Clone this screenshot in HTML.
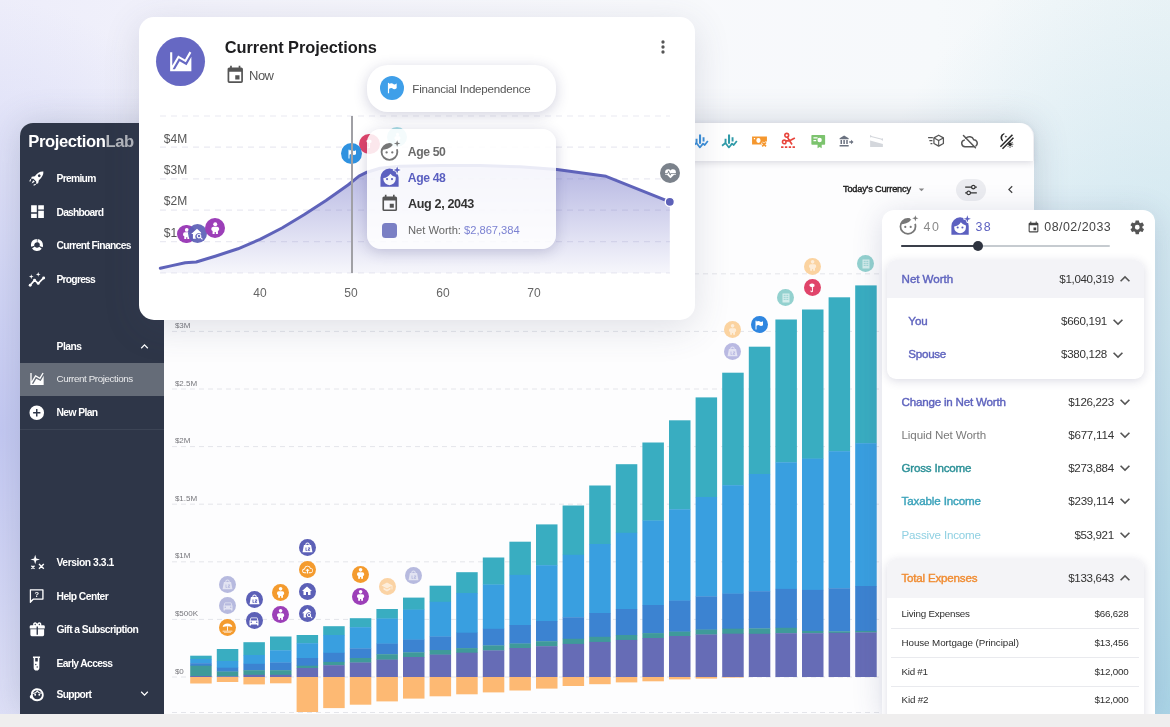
<!DOCTYPE html>
<html lang="en"><head><meta charset="utf-8"><title>ProjectionLab</title><style>
html,body{margin:0;padding:0}
body{width:1170px;height:727px;position:relative;overflow:hidden;font-family:"Liberation Sans",sans-serif;background:#f4f4fb}
.bg{position:absolute;left:0;top:0;width:1170px;height:727px;background:
 radial-gradient(ellipse 280px 430px at 0px 430px, rgba(196,201,243,1) 0%, rgba(196,201,243,0) 100%),
 radial-gradient(ellipse 420px 800px at 1170px 727px, rgba(170,213,231,1) 0%, rgba(170,213,231,0) 100%),
 linear-gradient(90deg,#ededfa 0%,#f3f3fb 22%,#f8f9fc 55%,#f6f9fb 80%,#eef5f7 100%);}
.t{position:absolute;white-space:pre;}
.ic{position:absolute;display:block;overflow:visible}
svg{overflow:visible}
</style></head><body>
<div class="bg"></div>
<div style="position:absolute;left:20px;top:122.5px;width:1013.50px;height:591.50px;background:#fdfdfe;border-radius:14px 14px 0 0;box-shadow:0 0 34px rgba(80,95,125,.24);"></div>
<div style="position:absolute;left:163.8px;top:122.5px;width:869.70px;height:38.00px;background:#fff;border-radius:0 14px 0 0;box-shadow:0 2px 6px rgba(60,60,90,.17);"></div>
<div style="position:absolute;left:20px;top:122.5px;width:143.80px;height:591.50px;background:#2e3648;border-radius:13px 0 0 0;"></div>
<div style="position:absolute;left:20px;top:363.2px;width:143.80px;height:33.00px;background:#656c78;"></div>
<div style="position:absolute;left:20px;top:429.4px;width:143.80px;height:1.00px;background:#3c4455;"></div>
<div class="t" style="left:28.30px;top:130.60px;font-size:16.6px;line-height:21.6px;font-weight:700;color:#fff;letter-spacing:-0.403px;">Projection<span style="color:#b4b7bd">Lab</span></div>
<svg class="ic" style="left:28.20px;top:167.90px;width:19px;height:19px;color:#fff;" viewBox="0 0 24 24" fill="currentColor"><g transform="rotate(45 12 12)"><path d="M12,1.5C15.2,4.2 16.2,8.3 15.6,13.2L17.8,16.6L16.6,18.8L14.4,16.8H9.6L7.4,18.8L6.2,16.6L8.4,13.2C7.8,8.3 8.8,4.2 12,1.5ZM12,7.2A1.7,1.7 0 0,0 12,10.6A1.7,1.7 0 0,0 12,7.2Z" fill-rule="evenodd"/><path d="M10.6,18.2H13.4L12,22.6Z"/><path d="M7.6,19.6L8.6,22.4M16.4,19.6L15.4,22.4" stroke="currentColor" stroke-width="1.3" fill="none"/></g></svg>
<div class="t" style="left:56.50px;top:172.30px;font-size:10.3px;line-height:13.4px;font-weight:700;color:#fff;letter-spacing:-0.713px;">Premium</div>
<svg class="ic" style="left:28.60px;top:202.60px;width:17px;height:17px;color:#fff;" viewBox="0 0 24 24" fill="currentColor"><path d="M13,3V9H21V3M13,21H21V11H13M3,21H11V15H3M3,13H11V3H3V13Z" /></svg>
<div class="t" style="left:56.50px;top:205.70px;font-size:10.3px;line-height:13.4px;font-weight:700;color:#fff;letter-spacing:-0.775px;">Dashboard</div>
<svg class="ic" style="left:29.90px;top:238.40px;width:14px;height:14px;color:#fff;" viewBox="0 0 24 24" fill="currentColor"><circle cx="12" cy="12" r="7.6" fill="none" stroke="currentColor" stroke-width="5.6" stroke-dasharray="13.7 2.2" transform="rotate(-84 12 12)"/></svg>
<div class="t" style="left:56.50px;top:239.30px;font-size:10.3px;line-height:13.4px;font-weight:700;color:#fff;letter-spacing:-0.646px;">Current Finances</div>
<svg class="ic" style="left:28.35px;top:270.85px;width:17.5px;height:17.5px;color:#fff;" viewBox="0 0 24 24" fill="currentColor"><path d="M3,19.5L9,12.5L14,17L21.5,9.5" fill="none" stroke="currentColor" stroke-width="2.3" stroke-linejoin="round" stroke-linecap="round"/><circle cx="3" cy="19.5" r="2"/><circle cx="9" cy="12.5" r="2"/><circle cx="14" cy="17" r="2"/><circle cx="21.5" cy="9.5" r="2"/><path d="M4.5,4.5L5.3,6.9L7.7,7.7L5.3,8.5L4.5,10.9L3.7,8.5L1.3,7.7L3.7,6.9ZM14,1.5L14.8,3.9L17.2,4.7L14.8,5.5L14,7.9L13.2,5.5L10.8,4.7L13.2,3.9Z"/></svg>
<div class="t" style="left:56.50px;top:272.70px;font-size:10.3px;line-height:13.4px;font-weight:700;color:#fff;letter-spacing:-0.765px;">Progress</div>
<div class="t" style="left:56.50px;top:339.70px;font-size:10.3px;line-height:13.4px;font-weight:700;color:#fff;letter-spacing:-0.471px;">Plans</div>
<svg class="ic" style="left:28.80px;top:371.40px;width:16px;height:16px;color:#fff;" viewBox="0 0 24 24" fill="currentColor"><path d="M17.45,15.18L22,7.31V19L22,21H2V3H4V15.54L9.5,6L16,9.78L20.24,2.45L21.97,3.45L16.74,12.5L10.23,8.75L4.31,19H6.57L10.96,11.44L17.45,15.18Z" /></svg>
<div class="t" style="left:56.50px;top:373.45px;font-size:9.8px;line-height:12.7px;font-weight:400;color:#e9eaec;letter-spacing:-0.398px;">Current Projections</div>
<svg class="ic" style="left:28.05px;top:403.95px;width:17.5px;height:17.5px;color:#fff;" viewBox="0 0 24 24" fill="currentColor"><path d="M17,13H13V17H11V13H7V11H11V7H13V11H17M12,2A10,10 0 0,0 2,12A10,10 0 0,0 12,22A10,10 0 0,0 22,12A10,10 0 0,0 12,2Z" /></svg>
<div class="t" style="left:56.50px;top:406.40px;font-size:10.3px;line-height:13.4px;font-weight:700;color:#fff;letter-spacing:-0.597px;">New Plan</div>
<svg class="ic" style="left:28.55px;top:554.15px;width:16.5px;height:16.5px;color:#fff;" viewBox="0 0 24 24" fill="currentColor"><path d="M9,1L10.6,6.4L16,8L10.6,9.6L9,15L7.4,9.6L2,8L7.4,6.4Z"/><path d="M14.5,14.5L21.5,21.5M21.5,14.5L14.5,21.5M3.5,17L8,21.5M8,17L3.5,21.5" stroke="currentColor" stroke-width="2" fill="none"/></svg>
<div class="t" style="left:56.50px;top:556.10px;font-size:10.3px;line-height:13.4px;font-weight:700;color:#fff;letter-spacing:-0.431px;">Version 3.3.1</div>
<svg class="ic" style="left:28.30px;top:587.30px;width:17px;height:17px;color:#fff;" viewBox="0 0 24 24" fill="currentColor"><path d="M3,3H21A1,1 0 0,1 22,4V17A1,1 0 0,1 21,18H8L3.5,22.5A0.6,0.6 0 0,1 2.5,22V4A1,1 0 0,1 3,3ZM4.3,4.9V18.6L7.2,16.1H20.1V4.9Z" fill-rule="evenodd"/><text x="12.3" y="14.4" font-size="10.5" font-weight="700" text-anchor="middle" font-family="Liberation Sans, sans-serif" fill="currentColor">?</text></svg>
<div class="t" style="left:56.50px;top:589.50px;font-size:10.3px;line-height:13.4px;font-weight:700;color:#fff;letter-spacing:-0.560px;">Help Center</div>
<svg class="ic" style="left:28.55px;top:621.25px;width:16.5px;height:16.5px;color:#fff;" viewBox="0 0 24 24" fill="currentColor"><path d="M9.06,1.93C7.17,1.92 5.33,3.74 6.17,6H3A2,2 0 0,0 1,8V10A1,1 0 0,0 2,11H11V8H13V11H22A1,1 0 0,0 23,10V8A2,2 0 0,0 21,6H17.83C19,2.73 14.6,0.42 12.57,3.24L12,4L11.43,3.22C10.8,2.33 9.93,1.94 9.06,1.93M9,4C9.89,4 10.34,5.08 9.71,5.71C9.08,6.34 8,5.89 8,5A1,1 0 0,1 9,4M15,4C15.89,4 16.34,5.08 15.71,5.71C15.08,6.34 14,5.89 14,5A1,1 0 0,1 15,4M2,12V20A2,2 0 0,0 4,22H20A2,2 0 0,0 22,20V12H13V20H11V12H2Z" /></svg>
<div class="t" style="left:56.50px;top:623.20px;font-size:10.3px;line-height:13.4px;font-weight:700;color:#fff;letter-spacing:-0.545px;">Gift a Subscription</div>
<svg class="ic" style="left:28.30px;top:654.50px;width:17px;height:17px;color:#fff;" viewBox="0 0 24 24" fill="currentColor"><path d="M7,2H17V4.4H16V18A4,4 0 0,1 8,18V4.4H7ZM10.2,4.4V9H13.8V4.4ZM11,12.5A1,1 0 0,0 11,14.5A1,1 0 0,0 11,12.5ZM13,16A1,1 0 0,0 13,18A1,1 0 0,0 13,16Z" fill-rule="evenodd"/></svg>
<div class="t" style="left:56.50px;top:656.70px;font-size:10.3px;line-height:13.4px;font-weight:700;color:#fff;letter-spacing:-0.650px;">Early Access</div>
<svg class="ic" style="left:28.55px;top:685.55px;width:16.5px;height:16.5px;color:#fff;" viewBox="0 0 24 24" fill="currentColor"><path d="M12,3.2C6.6,3.2 3,7 3,11.6V13.2A2.2,2.2 0 0,0 1.2,15.4V16A2.2,2.2 0 0,0 3.6,18.2C5,20.6 8,22 12,22C17.4,22 21.4,18.6 21.4,13C21.4,7.4 17.4,3.2 12,3.2ZM12,6C15.8,6 18.8,8.8 18.8,12.8C18.8,16.8 16,19.4 12,19.4C8,19.4 5.4,16.8 5.4,12.8C5.4,8.8 8.2,6 12,6ZM9,11.4A1.4,1.4 0 0,0 9,14.2A1.4,1.4 0 0,0 9,11.4ZM15,11.4A1.4,1.4 0 0,0 15,14.2A1.4,1.4 0 0,0 15,11.4Z" fill-rule="evenodd"/><path d="M6,11C9,10.8 11,9.4 12,7.4C13.4,9.6 15.8,10.8 18.6,10.6" fill="none" stroke="currentColor" stroke-width="1.6"/></svg>
<div class="t" style="left:56.50px;top:687.50px;font-size:10.3px;line-height:13.4px;font-weight:700;color:#fff;letter-spacing:-0.661px;">Support</div>
<svg class="ic" style="left:137.00px;top:338.50px;width:15px;height:15px;color:#fff;" viewBox="0 0 24 24" fill="currentColor"><path d="M7.41,15.41L12,10.83L16.59,15.41L18,14L12,8L6,14L7.41,15.41Z" /></svg>
<svg class="ic" style="left:136.80px;top:686.30px;width:15px;height:15px;color:#fff;" viewBox="0 0 24 24" fill="currentColor"><path d="M7.41,8.58L12,13.17L16.59,8.58L18,10L12,16L6,10L7.41,8.58Z" /></svg>
<svg class="ic" style="left:692.25px;top:132.55px;width:16.5px;height:16.5px;color:#3b8fd9;" viewBox="0 0 24 24" fill="currentColor"><path d="M5.2,8.5H8V14.2H5.2ZM10.2,2H13.2V15.6H10.2ZM15.4,6H18.2V12.4H15.4Z"/><path d="M1.5,18.5L6.5,14.5L11.5,21L16,15.5L18.5,17.5L23,11.5" fill="none" stroke="currentColor" stroke-width="2.5" stroke-linejoin="round"/></svg>
<svg class="ic" style="left:721.45px;top:132.55px;width:16.5px;height:16.5px;color:#2f9aa8;" viewBox="0 0 24 24" fill="currentColor"><path d="M5.2,8.5H8V14.2H5.2ZM10.2,2H13.2V15.6H10.2ZM15.4,6H18.2V12.4H15.4Z"/><path d="M1.5,18.5L6.5,14.5L11.5,21L16,15.5L18.5,17.5L23,11.5" fill="none" stroke="currentColor" stroke-width="2.5" stroke-linejoin="round"/></svg>
<svg class="ic" style="left:750.50px;top:132.30px;width:17px;height:17px;color:#f5972e;" viewBox="0 0 24 24" fill="currentColor"><path d="M1.5,6.5H22.5V13.4H20.2L18.5,15.1L16.8,13.4L14.2,16L15.7,17.5H1.5ZM10.5,8.6A3,3.4 0 0,0 10.5,15.4A3,3.4 0 0,0 10.5,8.6ZM4,8.6V10.4H5.8V8.6Z" fill-rule="evenodd"/><path d="M15.8,14.8L21.2,20.2M21.2,14.8L15.8,20.2" stroke="currentColor" stroke-width="2.3" fill="none"/></svg>
<svg class="ic" style="left:779.50px;top:132.30px;width:17px;height:17px;color:#e8453c;" viewBox="0 0 24 24" fill="currentColor"><circle cx="9.5" cy="4.6" r="2.7" fill="none" stroke="currentColor" stroke-width="2.2"/><circle cx="6" cy="14" r="2.5" fill="none" stroke="currentColor" stroke-width="2.2"/><path d="M10.5,7.2L13.5,12.5L21,8.5M8,12.6L13.5,12.5L17,17.5" fill="none" stroke="currentColor" stroke-width="2.4" stroke-linejoin="round"/><path d="M1.5,21.3H22.5" stroke="currentColor" stroke-width="2.6" stroke-dasharray="3.4 2" fill="none"/></svg>
<svg class="ic" style="left:809.75px;top:132.55px;width:16.5px;height:16.5px;color:#7cc36e;" viewBox="0 0 24 24" fill="currentColor"><path d="M3,3H21A1,1 0 0,1 22,4V16A1,1 0 0,1 21,17H17V22L14,20.2L11,22V17H3A1,1 0 0,1 2,16V4A1,1 0 0,1 3,3ZM5,6V8H11V6ZM5,10V12H9V10ZM14,7A3.2,3.2 0 0,0 14,13.4A3.2,3.2 0 0,0 14,7Z" fill-rule="evenodd"/></svg>
<svg class="ic" style="left:839.25px;top:133.55px;width:14.5px;height:14.5px;color:#6b7280;" viewBox="0 0 24 24" fill="currentColor"><path d="M1,7L8.5,2.5L16,7V8.6H1ZM2.5,10H5V16.5H2.5ZM7.2,10H9.7V16.5H7.2ZM12,10H14.5V16.5H12ZM1,18H16V20.5H1ZM17,12H20V9.6L24,13.2L20,16.8V14.4H17Z"/></svg>
<svg class="ic" style="left:867.50px;top:132.30px;width:17px;height:17px;color:#d4d7dc;" viewBox="0 0 24 24" fill="currentColor"><path d="M3,21V12L21,17V21Z"/><path d="M3,6L21,10.5" fill="none" stroke="currentColor" stroke-width="1.6"/><path d="M3,3.8L5.6,6L3,8.2ZM21,8.3L18.4,10.5L21,12.7Z"/></svg>
<svg class="ic" style="left:926.75px;top:132.85px;width:17.5px;height:17.5px;color:#555;" viewBox="0 0 24 24" fill="currentColor"><path d="M16,3L22.5,6.7V14.3L16,18L9.5,14.3V6.7Z" fill="none" stroke="currentColor" stroke-width="1.7" stroke-linejoin="round"/><path d="M9.8,6.9L16,10.4L22.2,6.9M16,10.4V17.6" fill="none" stroke="currentColor" stroke-width="1.5"/><path d="M1.5,5.6H8V7.3H1.5ZM3.2,9.6H7.4V11.3H3.2ZM4.8,13.6H7.4V15.3H4.8Z"/></svg>
<svg class="ic" style="left:959.75px;top:131.55px;width:18.5px;height:18.5px;color:#555;" viewBox="0 0 24 24" fill="currentColor"><path d="M7.6,8.2A6,6 0 0,1 17.8,10A4.6,4.6 0 0,1 20.6,18.2M17.5,19H6.5A4.3,4.3 0 0,1 5.6,10.5" fill="none" stroke="currentColor" stroke-width="1.9" stroke-linecap="round"/><path d="M4.5,4.5L20,20.5" stroke="currentColor" stroke-width="1.9" fill="none" stroke-linecap="round"/></svg>
<svg class="ic" style="left:997.75px;top:132.55px;width:16.5px;height:16.5px;color:#2a2a2a;" viewBox="0 0 24 24" fill="currentColor"><path d="M21,2.5L3.5,20" stroke="currentColor" stroke-width="2.3" fill="none"/><path d="M22.5,7L6.5,23" stroke="currentColor" stroke-width="2.3" fill="none"/><path d="M8.8,1.2A5.6,5.6 0 0,0 6.6,11.2A6.6,6.6 0 0,1 8.8,1.2Z" stroke="currentColor" stroke-width="1.6" stroke-linejoin="round"/><path d="M11.5,3.2L12.1,4.7L13.6,5.3L12.1,5.9L11.5,7.4L10.9,5.9L9.4,5.3L10.9,4.7Z"/><circle cx="17.5" cy="16.5" r="2.6"/><path d="M17.5,11.8V13.2M17.5,19.8V21.4M22.2,16.5H20.8M21,13.2L20,14.2M21,19.8L20,18.8M14.2,19.8L15,19" stroke="currentColor" stroke-width="1.5" fill="none"/></svg>
<div class="t" style="left:843.00px;top:183.00px;font-size:9.2px;line-height:12.0px;font-weight:400;color:#222;letter-spacing:-0.179px;-webkit-text-stroke:0.4px;">Today's Currency</div>
<svg class="ic" style="left:914.50px;top:182.80px;width:13px;height:13px;color:#888;" viewBox="0 0 24 24" fill="currentColor"><path d="M7,10L12,15L17,10H7Z" /></svg>
<div style="position:absolute;left:955.5px;top:178.5px;width:30.00px;height:22.00px;background:#ebecf0;border-radius:11px;"></div>
<svg class="ic" style="left:963.50px;top:182.60px;width:14px;height:14px;color:#333;" viewBox="0 0 24 24" fill="currentColor"><path d="M8 13C6.14 13 4.59 14.28 4.14 16H2V18H4.14C4.59 19.72 6.14 21 8 21S11.41 19.72 11.86 18H22V16H11.86C11.41 14.28 9.86 13 8 13M8 19C6.9 19 6 18.1 6 17C6 15.9 6.9 15 8 15S10 15.9 10 17C10 18.1 9.1 19 8 19M19.86 6C19.41 4.28 17.86 3 16 3S12.59 4.28 12.14 6H2V8H12.14C12.59 9.72 14.14 11 16 11S19.41 9.72 19.86 8H22V6H19.86M16 9C14.9 9 14 8.1 14 7C14 5.9 14.9 5 16 5S18 5.9 18 7C18 8.1 17.1 9 16 9Z" /></svg>
<svg class="ic" style="left:1003.10px;top:181.70px;width:15px;height:15px;color:#444;" viewBox="0 0 24 24" fill="currentColor"><path d="M15.41,16.58L10.83,12L15.41,7.41L14,6L8,12L14,18L15.41,16.58Z" /></svg>
<svg style="position:absolute;left:0;top:0;width:1170px;height:727px" viewBox="0 0 1170 727"><g stroke="#e4e5ea" stroke-width="1" stroke-dasharray="5 4" fill="none"><line x1="172" x2="880" y1="677.0" y2="677.0"/><line x1="172" x2="880" y1="619.4" y2="619.4"/><line x1="172" x2="880" y1="561.8" y2="561.8"/><line x1="172" x2="880" y1="504.2" y2="504.2"/><line x1="172" x2="880" y1="446.6" y2="446.6"/><line x1="172" x2="880" y1="389.0" y2="389.0"/><line x1="172" x2="880" y1="331.4" y2="331.4"/><line x1="172" x2="880" y1="273.8" y2="273.8"/><line x1="172" x2="880" y1="712.5" y2="712.5"/></g><rect x="190.2" y="655.7" width="21.5" height="3.6" fill="#39adc1"/><rect x="190.2" y="659.0" width="21.5" height="4.5" fill="#399fe0"/><rect x="190.2" y="663.2" width="21.5" height="2.8" fill="#3c83d1"/><rect x="190.2" y="665.7" width="21.5" height="10.6" fill="#3f9a9a"/><rect x="190.2" y="676.0" width="21.5" height="1.0" fill="#666cb6"/><rect x="190.2" y="677.0" width="21.5" height="6.5" fill="#fdb973"/><rect x="216.8" y="649.0" width="21.5" height="12.3" fill="#39adc1"/><rect x="216.8" y="661.0" width="21.5" height="7.0" fill="#399fe0"/><rect x="216.8" y="667.7" width="21.5" height="4.1" fill="#3c83d1"/><rect x="216.8" y="671.5" width="21.5" height="5.1" fill="#3f9a9a"/><rect x="216.8" y="676.3" width="21.5" height="0.7" fill="#666cb6"/><rect x="216.8" y="677.0" width="21.5" height="5.0" fill="#fdb973"/><rect x="243.4" y="642.2" width="21.5" height="13.1" fill="#39adc1"/><rect x="243.4" y="655.0" width="21.5" height="9.1" fill="#399fe0"/><rect x="243.4" y="663.8" width="21.5" height="6.7" fill="#3c83d1"/><rect x="243.4" y="670.2" width="21.5" height="4.9" fill="#3f9a9a"/><rect x="243.4" y="674.8" width="21.5" height="2.2" fill="#666cb6"/><rect x="243.4" y="677.0" width="21.5" height="7.4" fill="#fdb973"/><rect x="270.0" y="636.5" width="21.5" height="14.1" fill="#39adc1"/><rect x="270.0" y="650.3" width="21.5" height="12.5" fill="#399fe0"/><rect x="270.0" y="662.5" width="21.5" height="8.0" fill="#3c83d1"/><rect x="270.0" y="670.2" width="21.5" height="4.9" fill="#3f9a9a"/><rect x="270.0" y="674.8" width="21.5" height="2.2" fill="#666cb6"/><rect x="270.0" y="677.0" width="21.5" height="6.3" fill="#fdb973"/><rect x="296.6" y="635.0" width="21.5" height="8.5" fill="#39adc1"/><rect x="296.6" y="643.2" width="21.5" height="15.1" fill="#399fe0"/><rect x="296.6" y="658.0" width="21.5" height="8.0" fill="#3c83d1"/><rect x="296.6" y="665.7" width="21.5" height="2.6" fill="#3f9a9a"/><rect x="296.6" y="668.0" width="21.5" height="9.0" fill="#666cb6"/><rect x="296.6" y="677.0" width="21.5" height="35.0" fill="#fdb973"/><rect x="323.2" y="626.2" width="21.5" height="9.1" fill="#39adc1"/><rect x="323.2" y="635.0" width="21.5" height="18.1" fill="#399fe0"/><rect x="323.2" y="652.8" width="21.5" height="9.4" fill="#3c83d1"/><rect x="323.2" y="661.9" width="21.5" height="3.6" fill="#3f9a9a"/><rect x="323.2" y="665.2" width="21.5" height="11.8" fill="#666cb6"/><rect x="323.2" y="677.0" width="21.5" height="31.1" fill="#fdb973"/><rect x="349.8" y="618.2" width="21.5" height="9.3" fill="#39adc1"/><rect x="349.8" y="627.2" width="21.5" height="21.5" fill="#399fe0"/><rect x="349.8" y="648.4" width="21.5" height="9.9" fill="#3c83d1"/><rect x="349.8" y="658.0" width="21.5" height="4.8" fill="#3f9a9a"/><rect x="349.8" y="662.5" width="21.5" height="14.5" fill="#666cb6"/><rect x="349.8" y="677.0" width="21.5" height="27.7" fill="#fdb973"/><rect x="376.4" y="609.0" width="21.5" height="9.8" fill="#39adc1"/><rect x="376.4" y="618.5" width="21.5" height="25.4" fill="#399fe0"/><rect x="376.4" y="643.6" width="21.5" height="10.9" fill="#3c83d1"/><rect x="376.4" y="654.2" width="21.5" height="5.7" fill="#3f9a9a"/><rect x="376.4" y="659.6" width="21.5" height="17.4" fill="#666cb6"/><rect x="376.4" y="677.0" width="21.5" height="24.4" fill="#fdb973"/><rect x="403.0" y="597.6" width="21.5" height="12.3" fill="#39adc1"/><rect x="403.0" y="609.6" width="21.5" height="30.3" fill="#399fe0"/><rect x="403.0" y="639.6" width="21.5" height="13.0" fill="#3c83d1"/><rect x="403.0" y="652.3" width="21.5" height="5.0" fill="#3f9a9a"/><rect x="403.0" y="657.0" width="21.5" height="20.0" fill="#666cb6"/><rect x="403.0" y="677.0" width="21.5" height="21.6" fill="#fdb973"/><rect x="429.6" y="585.7" width="21.5" height="16.4" fill="#39adc1"/><rect x="429.6" y="601.8" width="21.5" height="35.0" fill="#399fe0"/><rect x="429.6" y="636.5" width="21.5" height="13.8" fill="#3c83d1"/><rect x="429.6" y="650.0" width="21.5" height="4.9" fill="#3f9a9a"/><rect x="429.6" y="654.6" width="21.5" height="22.4" fill="#666cb6"/><rect x="429.6" y="677.0" width="21.5" height="19.3" fill="#fdb973"/><rect x="456.2" y="572.2" width="21.5" height="21.1" fill="#39adc1"/><rect x="456.2" y="593.0" width="21.5" height="40.0" fill="#399fe0"/><rect x="456.2" y="632.7" width="21.5" height="15.7" fill="#3c83d1"/><rect x="456.2" y="648.1" width="21.5" height="4.9" fill="#3f9a9a"/><rect x="456.2" y="652.7" width="21.5" height="24.3" fill="#666cb6"/><rect x="456.2" y="677.0" width="21.5" height="17.3" fill="#fdb973"/><rect x="482.8" y="557.5" width="21.5" height="27.3" fill="#39adc1"/><rect x="482.8" y="584.5" width="21.5" height="44.6" fill="#399fe0"/><rect x="482.8" y="628.8" width="21.5" height="16.9" fill="#3c83d1"/><rect x="482.8" y="645.4" width="21.5" height="5.3" fill="#3f9a9a"/><rect x="482.8" y="650.4" width="21.5" height="26.6" fill="#666cb6"/><rect x="482.8" y="677.0" width="21.5" height="15.4" fill="#fdb973"/><rect x="509.4" y="541.7" width="21.5" height="33.5" fill="#39adc1"/><rect x="509.4" y="574.9" width="21.5" height="50.4" fill="#399fe0"/><rect x="509.4" y="625.0" width="21.5" height="18.8" fill="#3c83d1"/><rect x="509.4" y="643.5" width="21.5" height="4.8" fill="#3f9a9a"/><rect x="509.4" y="648.0" width="21.5" height="29.0" fill="#666cb6"/><rect x="509.4" y="677.0" width="21.5" height="13.5" fill="#fdb973"/><rect x="536.0" y="524.4" width="21.5" height="41.1" fill="#39adc1"/><rect x="536.0" y="565.2" width="21.5" height="56.1" fill="#399fe0"/><rect x="536.0" y="621.0" width="21.5" height="20.5" fill="#3c83d1"/><rect x="536.0" y="641.2" width="21.5" height="5.3" fill="#3f9a9a"/><rect x="536.0" y="646.2" width="21.5" height="30.8" fill="#666cb6"/><rect x="536.0" y="677.0" width="21.5" height="11.6" fill="#fdb973"/><rect x="562.6" y="505.5" width="21.5" height="49.6" fill="#39adc1"/><rect x="562.6" y="554.8" width="21.5" height="62.8" fill="#399fe0"/><rect x="562.6" y="617.3" width="21.5" height="21.8" fill="#3c83d1"/><rect x="562.6" y="638.8" width="21.5" height="5.4" fill="#3f9a9a"/><rect x="562.6" y="643.9" width="21.5" height="33.1" fill="#666cb6"/><rect x="562.6" y="677.0" width="21.5" height="9.0" fill="#fdb973"/><rect x="589.2" y="485.5" width="21.5" height="58.8" fill="#39adc1"/><rect x="589.2" y="544.0" width="21.5" height="69.3" fill="#399fe0"/><rect x="589.2" y="613.0" width="21.5" height="24.1" fill="#3c83d1"/><rect x="589.2" y="636.8" width="21.5" height="5.4" fill="#3f9a9a"/><rect x="589.2" y="641.9" width="21.5" height="35.1" fill="#666cb6"/><rect x="589.2" y="677.0" width="21.5" height="7.2" fill="#fdb973"/><rect x="615.8" y="464.2" width="21.5" height="68.9" fill="#39adc1"/><rect x="615.8" y="532.8" width="21.5" height="76.5" fill="#399fe0"/><rect x="615.8" y="609.0" width="21.5" height="26.3" fill="#3c83d1"/><rect x="615.8" y="635.0" width="21.5" height="5.2" fill="#3f9a9a"/><rect x="615.8" y="639.9" width="21.5" height="37.1" fill="#666cb6"/><rect x="615.8" y="677.0" width="21.5" height="5.4" fill="#fdb973"/><rect x="642.4" y="442.5" width="21.5" height="78.3" fill="#39adc1"/><rect x="642.4" y="520.5" width="21.5" height="84.8" fill="#399fe0"/><rect x="642.4" y="605.0" width="21.5" height="28.4" fill="#3c83d1"/><rect x="642.4" y="633.1" width="21.5" height="5.2" fill="#3f9a9a"/><rect x="642.4" y="638.0" width="21.5" height="39.0" fill="#666cb6"/><rect x="642.4" y="677.0" width="21.5" height="4.3" fill="#fdb973"/><rect x="669.0" y="420.3" width="21.5" height="89.3" fill="#39adc1"/><rect x="669.0" y="509.3" width="21.5" height="91.6" fill="#399fe0"/><rect x="669.0" y="600.6" width="21.5" height="31.3" fill="#3c83d1"/><rect x="669.0" y="631.6" width="21.5" height="4.7" fill="#3f9a9a"/><rect x="669.0" y="636.0" width="21.5" height="41.0" fill="#666cb6"/><rect x="669.0" y="677.0" width="21.5" height="2.4" fill="#fdb973"/><rect x="695.6" y="397.4" width="21.5" height="99.9" fill="#39adc1"/><rect x="695.6" y="497.0" width="21.5" height="99.7" fill="#399fe0"/><rect x="695.6" y="596.4" width="21.5" height="33.5" fill="#3c83d1"/><rect x="695.6" y="629.6" width="21.5" height="5.2" fill="#3f9a9a"/><rect x="695.6" y="634.5" width="21.5" height="42.5" fill="#666cb6"/><rect x="695.6" y="677.0" width="21.5" height="1.6" fill="#fdb973"/><rect x="722.2" y="372.7" width="21.5" height="112.8" fill="#39adc1"/><rect x="722.2" y="485.2" width="21.5" height="108.7" fill="#399fe0"/><rect x="722.2" y="593.6" width="21.5" height="35.4" fill="#3c83d1"/><rect x="722.2" y="628.7" width="21.5" height="5.3" fill="#3f9a9a"/><rect x="722.2" y="633.7" width="21.5" height="43.3" fill="#666cb6"/><rect x="722.2" y="677.0" width="21.5" height="0.6" fill="#fdb973"/><rect x="748.8" y="346.7" width="21.5" height="127.6" fill="#39adc1"/><rect x="748.8" y="474.0" width="21.5" height="117.5" fill="#399fe0"/><rect x="748.8" y="591.2" width="21.5" height="37.5" fill="#3c83d1"/><rect x="748.8" y="628.4" width="21.5" height="5.7" fill="#3f9a9a"/><rect x="748.8" y="633.8" width="21.5" height="43.2" fill="#666cb6"/><rect x="775.4" y="319.5" width="21.5" height="143.1" fill="#39adc1"/><rect x="775.4" y="462.3" width="21.5" height="126.9" fill="#399fe0"/><rect x="775.4" y="588.9" width="21.5" height="39.2" fill="#3c83d1"/><rect x="775.4" y="627.8" width="21.5" height="5.7" fill="#3f9a9a"/><rect x="775.4" y="633.2" width="21.5" height="43.8" fill="#666cb6"/><rect x="802.0" y="309.5" width="21.5" height="149.4" fill="#39adc1"/><rect x="802.0" y="458.6" width="21.5" height="131.6" fill="#399fe0"/><rect x="802.0" y="589.9" width="21.5" height="41.3" fill="#3c83d1"/><rect x="802.0" y="630.9" width="21.5" height="2.6" fill="#3f9a9a"/><rect x="802.0" y="633.2" width="21.5" height="43.8" fill="#666cb6"/><rect x="828.6" y="297.3" width="21.5" height="154.2" fill="#39adc1"/><rect x="828.6" y="451.2" width="21.5" height="137.4" fill="#399fe0"/><rect x="828.6" y="588.3" width="21.5" height="43.3" fill="#3c83d1"/><rect x="828.6" y="631.3" width="21.5" height="1.8" fill="#3f9a9a"/><rect x="828.6" y="632.8" width="21.5" height="44.2" fill="#666cb6"/><rect x="855.2" y="285.4" width="21.5" height="158.1" fill="#39adc1"/><rect x="855.2" y="443.2" width="21.5" height="143.1" fill="#399fe0"/><rect x="855.2" y="586.0" width="21.5" height="45.2" fill="#3c83d1"/><rect x="855.2" y="630.9" width="21.5" height="1.8" fill="#3f9a9a"/><rect x="855.2" y="632.4" width="21.5" height="44.6" fill="#666cb6"/></svg>
<div class="t" style="left:174.90px;top:666.60px;font-size:8px;line-height:10.4px;font-weight:400;color:#77777c;">$0</div>
<div class="t" style="left:174.90px;top:609.00px;font-size:8px;line-height:10.4px;font-weight:400;color:#77777c;">$500K</div>
<div class="t" style="left:174.90px;top:551.40px;font-size:8px;line-height:10.4px;font-weight:400;color:#77777c;">$1M</div>
<div class="t" style="left:174.90px;top:493.80px;font-size:8px;line-height:10.4px;font-weight:400;color:#77777c;">$1.5M</div>
<div class="t" style="left:174.90px;top:436.20px;font-size:8px;line-height:10.4px;font-weight:400;color:#77777c;">$2M</div>
<div class="t" style="left:174.90px;top:378.60px;font-size:8px;line-height:10.4px;font-weight:400;color:#77777c;">$2.5M</div>
<div class="t" style="left:174.90px;top:321.00px;font-size:8px;line-height:10.4px;font-weight:400;color:#77777c;">$3M</div>
<div style="position:absolute;left:219.10px;top:575.50px;width:17.00px;height:17.00px;border-radius:50%;background:#b7badf;"><svg viewBox="0 0 24 24" fill="currentColor" style="position:absolute;left:2.00px;top:2.00px;width:13px;height:13px;color:rgba(255,255,255,.6)"><path d="M8,7.6V6.6A4,4 0 0,1 16,6.6V7.6H18.6L21.2,20.6H2.8L5.4,7.6ZM9.8,7.6H14.2V6.6A2.2,2.2 0 0,0 9.8,6.6ZM8.4,12.2V18H11.8V16.6H10V12.2ZM12.8,12.2V13.6H15.2V14.4H12.8V18H16.8V16.6H14.4V15.8H16.8V12.2Z" fill-rule="evenodd"/></svg></div>
<div style="position:absolute;left:219.10px;top:597.00px;width:17.00px;height:17.00px;border-radius:50%;background:#b7badf;"><svg viewBox="0 0 24 24" fill="currentColor" style="position:absolute;left:2.50px;top:2.50px;width:12px;height:12px;color:rgba(255,255,255,.6)"><path d="M5,11L6.5,6.5H17.5L19,11M17.5,16A1.5,1.5 0 0,1 16,14.5A1.5,1.5 0 0,1 17.5,13A1.5,1.5 0 0,1 19,14.5A1.5,1.5 0 0,1 17.5,16M6.5,16A1.5,1.5 0 0,1 5,14.5A1.5,1.5 0 0,1 6.5,13A1.5,1.5 0 0,1 8,14.5A1.5,1.5 0 0,1 6.5,16M18.92,6C18.72,5.42 18.16,5 17.5,5H6.5C5.84,5 5.28,5.42 5.08,6L3,12V20A1,1 0 0,0 4,21H5A1,1 0 0,0 6,20V19H18V20A1,1 0 0,0 19,21H20A1,1 0 0,0 21,20V12L18.92,6Z" /></svg></div>
<div style="position:absolute;left:219.10px;top:618.60px;width:17.00px;height:17.00px;border-radius:50%;background:#f49b2e;"><svg viewBox="0 0 24 24" fill="currentColor" style="position:absolute;left:2.00px;top:2.00px;width:13px;height:13px;color:#fff"><path d="M3.2,11.2A8.8,6.4 0 0,1 20.8,11.2Q12,8.6 3.2,11.2Z"/><path d="M11.2,9.5H12.8V18H11.2Z"/><path d="M3,18.2H21V19.6H3ZM5.5,20.6H18.5V21.8H5.5Z"/></svg></div>
<div style="position:absolute;left:245.60px;top:590.50px;width:17.00px;height:17.00px;border-radius:50%;background:#5c60b7;"><svg viewBox="0 0 24 24" fill="currentColor" style="position:absolute;left:2.00px;top:2.00px;width:13px;height:13px;color:#fff"><path d="M8,7.6V6.6A4,4 0 0,1 16,6.6V7.6H18.6L21.2,20.6H2.8L5.4,7.6ZM9.8,7.6H14.2V6.6A2.2,2.2 0 0,0 9.8,6.6ZM8.4,12.2V18H11.8V16.6H10V12.2ZM12.8,12.2V13.6H15.2V14.4H12.8V18H16.8V16.6H14.4V15.8H16.8V12.2Z" fill-rule="evenodd"/></svg></div>
<div style="position:absolute;left:245.60px;top:612.00px;width:17.00px;height:17.00px;border-radius:50%;background:#5c60b7;"><svg viewBox="0 0 24 24" fill="currentColor" style="position:absolute;left:2.50px;top:2.50px;width:12px;height:12px;color:#fff"><path d="M5,11L6.5,6.5H17.5L19,11M17.5,16A1.5,1.5 0 0,1 16,14.5A1.5,1.5 0 0,1 17.5,13A1.5,1.5 0 0,1 19,14.5A1.5,1.5 0 0,1 17.5,16M6.5,16A1.5,1.5 0 0,1 5,14.5A1.5,1.5 0 0,1 6.5,13A1.5,1.5 0 0,1 8,14.5A1.5,1.5 0 0,1 6.5,16M18.92,6C18.72,5.42 18.16,5 17.5,5H6.5C5.84,5 5.28,5.42 5.08,6L3,12V20A1,1 0 0,0 4,21H5A1,1 0 0,0 6,20V19H18V20A1,1 0 0,0 19,21H20A1,1 0 0,0 21,20V12L18.92,6Z" /></svg></div>
<div style="position:absolute;left:272.30px;top:584.30px;width:17.00px;height:17.00px;border-radius:50%;background:#f49b2e;"><svg viewBox="0 0 24 24" fill="currentColor" style="position:absolute;left:1.90px;top:1.90px;width:13.2px;height:13.2px;color:#fff"><circle cx="12" cy="5.2" r="3.3"/><path d="M8.6,9.4H15.4Q18.6,9.6 18.6,13.2Q18.6,16 16.4,16.6V21.5H13V18H11V21.5H7.6V16.6Q5.4,16 5.4,13.2Q5.4,9.6 8.6,9.4Z"/></svg></div>
<div style="position:absolute;left:272.30px;top:605.90px;width:17.00px;height:17.00px;border-radius:50%;background:#9c3fb8;"><svg viewBox="0 0 24 24" fill="currentColor" style="position:absolute;left:1.90px;top:1.90px;width:13.2px;height:13.2px;color:#fff"><circle cx="12" cy="5.2" r="3.3"/><path d="M8.6,9.4H15.4Q18.6,9.6 18.6,13.2Q18.6,16 16.4,16.6V21.5H13V18H11V21.5H7.6V16.6Q5.4,16 5.4,13.2Q5.4,9.6 8.6,9.4Z"/></svg></div>
<div style="position:absolute;left:298.60px;top:538.90px;width:17.00px;height:17.00px;border-radius:50%;background:#5c60b7;"><svg viewBox="0 0 24 24" fill="currentColor" style="position:absolute;left:2.00px;top:2.00px;width:13px;height:13px;color:#fff"><path d="M8,7.6V6.6A4,4 0 0,1 16,6.6V7.6H18.6L21.2,20.6H2.8L5.4,7.6ZM9.8,7.6H14.2V6.6A2.2,2.2 0 0,0 9.8,6.6ZM8.4,12.2V18H11.8V16.6H10V12.2ZM12.8,12.2V13.6H15.2V14.4H12.8V18H16.8V16.6H14.4V15.8H16.8V12.2Z" fill-rule="evenodd"/></svg></div>
<div style="position:absolute;left:298.60px;top:561.10px;width:17.00px;height:17.00px;border-radius:50%;background:#f49b2e;"><svg viewBox="0 0 24 24" fill="currentColor" style="position:absolute;left:2.00px;top:2.00px;width:13px;height:13px;color:#fff"><path d="M6.5,19A4.5,4.5 0 0,1 5.9,10.05A6.2,6.2 0 0,1 17.9,9.1A5,5 0 0,1 18,19H14.5V17.2H18A3.2,3.2 0 0,0 17.6,10.8L16.5,10.85L16.3,9.8A4.4,4.4 0 0,0 7.6,10.4L7.5,11.7L6.3,11.8A2.7,2.7 0 0,0 6.5,17.2H9.5V19ZM12,10.5L16,14.5H13.1V19.5H10.9V14.5H8Z" fill-rule="evenodd"/></svg></div>
<div style="position:absolute;left:298.60px;top:582.60px;width:17.00px;height:17.00px;border-radius:50%;background:#5c60b7;"><svg viewBox="0 0 24 24" fill="currentColor" style="position:absolute;left:2.50px;top:2.50px;width:12px;height:12px;color:#fff"><path d="M10,20V14H14V20H19V12H22L12,3L2,12H5V20H10Z" /></svg></div>
<div style="position:absolute;left:298.60px;top:604.50px;width:17.00px;height:17.00px;border-radius:50%;background:#5c60b7;"><svg viewBox="0 0 24 24" fill="currentColor" style="position:absolute;left:2.25px;top:2.25px;width:12.5px;height:12.5px;color:#fff"><path d="M12,3L2,12H5V20H10.2A6.2,6.2 0 0,1 19,11.6V9.3ZM15.5,11.5A4,4 0 0,1 18.9,17.6L22,20.7L20.7,22L17.6,18.9A4,4 0 1,1 15.5,11.5ZM15.5,13.4A2.1,2.1 0 0,0 15.5,17.6A2.1,2.1 0 0,0 15.5,13.4Z" fill-rule="evenodd"/></svg></div>
<div style="position:absolute;left:352.00px;top:565.50px;width:17.00px;height:17.00px;border-radius:50%;background:#f49b2e;"><svg viewBox="0 0 24 24" fill="currentColor" style="position:absolute;left:1.90px;top:1.90px;width:13.2px;height:13.2px;color:#fff"><circle cx="12" cy="5.2" r="3.3"/><path d="M8.6,9.4H15.4Q18.6,9.6 18.6,13.2Q18.6,16 16.4,16.6V21.5H13V18H11V21.5H7.6V16.6Q5.4,16 5.4,13.2Q5.4,9.6 8.6,9.4Z"/></svg></div>
<div style="position:absolute;left:352.00px;top:587.60px;width:17.00px;height:17.00px;border-radius:50%;background:#9c3fb8;"><svg viewBox="0 0 24 24" fill="currentColor" style="position:absolute;left:1.90px;top:1.90px;width:13.2px;height:13.2px;color:#fff"><circle cx="12" cy="5.2" r="3.3"/><path d="M8.6,9.4H15.4Q18.6,9.6 18.6,13.2Q18.6,16 16.4,16.6V21.5H13V18H11V21.5H7.6V16.6Q5.4,16 5.4,13.2Q5.4,9.6 8.6,9.4Z"/></svg></div>
<div style="position:absolute;left:378.70px;top:578.30px;width:17.00px;height:17.00px;border-radius:50%;background:#fbd3a4;"><svg viewBox="0 0 24 24" fill="currentColor" style="position:absolute;left:2.50px;top:2.50px;width:12px;height:12px;color:rgba(255,255,255,.6)"><path d="M12,3L1,9L12,15L21,10.09V17H23V9M5,13.18V17.18L12,21L19,17.18V13.18L12,17L5,13.18Z" /></svg></div>
<div style="position:absolute;left:405.10px;top:567.10px;width:17.00px;height:17.00px;border-radius:50%;background:#b7badf;"><svg viewBox="0 0 24 24" fill="currentColor" style="position:absolute;left:2.00px;top:2.00px;width:13px;height:13px;color:rgba(255,255,255,.6)"><path d="M8,7.6V6.6A4,4 0 0,1 16,6.6V7.6H18.6L21.2,20.6H2.8L5.4,7.6ZM9.8,7.6H14.2V6.6A2.2,2.2 0 0,0 9.8,6.6ZM8.4,12.2V18H11.8V16.6H10V12.2ZM12.8,12.2V13.6H15.2V14.4H12.8V18H16.8V16.6H14.4V15.8H16.8V12.2Z" fill-rule="evenodd"/></svg></div>
<div style="position:absolute;left:723.80px;top:321.20px;width:17.00px;height:17.00px;border-radius:50%;background:#fbd3a0;"><svg viewBox="0 0 24 24" fill="currentColor" style="position:absolute;left:1.90px;top:1.90px;width:13.2px;height:13.2px;color:rgba(255,255,255,.6)"><circle cx="12" cy="5.2" r="3.3"/><path d="M8.6,9.4H15.4Q18.6,9.6 18.6,13.2Q18.6,16 16.4,16.6V21.5H13V18H11V21.5H7.6V16.6Q5.4,16 5.4,13.2Q5.4,9.6 8.6,9.4Z"/></svg></div>
<div style="position:absolute;left:723.80px;top:342.80px;width:17.00px;height:17.00px;border-radius:50%;background:#b9b9e2;"><svg viewBox="0 0 24 24" fill="currentColor" style="position:absolute;left:2.00px;top:2.00px;width:13px;height:13px;color:rgba(255,255,255,.6)"><path d="M8,7.6V6.6A4,4 0 0,1 16,6.6V7.6H18.6L21.2,20.6H2.8L5.4,7.6ZM9.8,7.6H14.2V6.6A2.2,2.2 0 0,0 9.8,6.6ZM8.4,12.2V18H11.8V16.6H10V12.2ZM12.8,12.2V13.6H15.2V14.4H12.8V18H16.8V16.6H14.4V15.8H16.8V12.2Z" fill-rule="evenodd"/></svg></div>
<div style="position:absolute;left:750.60px;top:316.40px;width:17.00px;height:17.00px;border-radius:50%;background:#2f86e0;"><svg viewBox="0 0 24 24" fill="currentColor" style="position:absolute;left:2.50px;top:2.50px;width:12px;height:12px;color:#fff"><path d="M6,3A1,1 0 0,1 7,4V4.88C8.06,4.44 9.5,4 11,4C14,4 14,6 16,6C19,6 20,4 20,4V12C20,12 19,14 16,14C13,14 13,12 11,12C8,12 7,14 7,14V21H5V4A1,1 0 0,1 6,3Z" /></svg></div>
<div style="position:absolute;left:777.00px;top:289.10px;width:17.00px;height:17.00px;border-radius:50%;background:#93d1cf;"><svg viewBox="0 0 24 24" fill="currentColor" style="position:absolute;left:2.50px;top:2.50px;width:12px;height:12px;color:rgba(255,255,255,.6)"><path d="M5,3H19V21H5ZM7.5,5.5V8H9.5V5.5ZM11,5.5V8H13V5.5ZM14.5,5.5V8H16.5V5.5ZM7.5,9.5V12H9.5V9.5ZM11,9.5V12H13V9.5ZM14.5,9.5V12H16.5V9.5ZM7.5,13.5V16H9.5V13.5ZM11,13.5V16H13V13.5ZM14.5,13.5V16H16.5V13.5Z" fill-rule="evenodd"/></svg></div>
<div style="position:absolute;left:803.70px;top:257.50px;width:17.00px;height:17.00px;border-radius:50%;background:#fbd3a0;"><svg viewBox="0 0 24 24" fill="currentColor" style="position:absolute;left:1.90px;top:1.90px;width:13.2px;height:13.2px;color:rgba(255,255,255,.6)"><circle cx="12" cy="5.2" r="3.3"/><path d="M8.6,9.4H15.4Q18.6,9.6 18.6,13.2Q18.6,16 16.4,16.6V21.5H13V18H11V21.5H7.6V16.6Q5.4,16 5.4,13.2Q5.4,9.6 8.6,9.4Z"/></svg></div>
<div style="position:absolute;left:803.70px;top:279.20px;width:17.00px;height:17.00px;border-radius:50%;background:#e0446a;"><svg viewBox="0 0 24 24" fill="currentColor" style="position:absolute;left:2.50px;top:2.50px;width:12px;height:12px;color:#fff"><path d="M7,5Q12,1 17,5Q18.5,9 14,10.5L13.5,12Q15,12.5 14,14V18A2.5,2.5 0 0,1 9,18V17H10.8V18A0.7,0.7 0 0,0 12.2,18V14Q11,12.8 12,11.5L11.6,10.5Q6,9 7,5Z"/></svg></div>
<div style="position:absolute;left:857.00px;top:255.40px;width:17.00px;height:17.00px;border-radius:50%;background:#93d1cf;"><svg viewBox="0 0 24 24" fill="currentColor" style="position:absolute;left:2.50px;top:2.50px;width:12px;height:12px;color:rgba(255,255,255,.6)"><path d="M5,3H19V21H5ZM7.5,5.5V8H9.5V5.5ZM11,5.5V8H13V5.5ZM14.5,5.5V8H16.5V5.5ZM7.5,9.5V12H9.5V9.5ZM11,9.5V12H13V9.5ZM14.5,9.5V12H16.5V9.5ZM7.5,13.5V16H9.5V13.5ZM11,13.5V16H13V13.5ZM14.5,13.5V16H16.5V13.5Z" fill-rule="evenodd"/></svg></div>
<div style="position:absolute;left:881.5px;top:210.2px;width:273.50px;height:503.80px;background:#fff;border-radius:12px 12px 0 0;box-shadow:0 4px 30px rgba(60,70,120,.18);"></div>
<svg class="ic" style="left:898.10px;top:215.10px;width:21px;height:21px;color:#777;" viewBox="0 0 24 24" fill="currentColor"><circle cx="11.4" cy="13" r="8.6" fill="none" stroke="currentColor" stroke-width="2" stroke-dasharray="42.6 8.2 3.24 0"/><path d="M2.8,10.9A8.8,8.8 0 0,1 15.3,5.2Q13.2,8.2 9.4,9.5Q6,10.5 2.8,10.9Z"/><circle cx="8.3" cy="13.6" r="1.25"/><circle cx="14.5" cy="13.6" r="1.25"/><path d="M19.8,0.2L20.7,2.9L23.4,3.8L20.7,4.7L19.8,7.4L18.9,4.7L16.2,3.8L18.9,2.9Z"/></svg>
<div class="t" style="left:923.60px;top:219.25px;font-size:12.4px;line-height:16.1px;font-weight:400;color:#8a8a8a;letter-spacing:1.403px;">40</div>
<svg class="ic" style="left:950.10px;top:215.00px;width:21px;height:21px;color:#5c60c0;" viewBox="0 0 24 24" fill="currentColor"><path d="M1.6,22.6V12.6A9.8,9.8 0 0,1 21.4,12.6V22.6ZM4.8,14.2A6.7,6.7 0 0,0 18.2,14.2V12Q14.4,11.2 12.4,8.4Q9.6,12.6 4.8,13.2Z" fill-rule="evenodd"/><circle cx="8.8" cy="14.3" r="1.2"/><circle cx="14.2" cy="14.3" r="1.2"/><path d="M19.8,0.4L20.8,3.4L23.8,4.4L20.8,5.4L19.8,8.4L18.8,5.4L15.8,4.4L18.8,3.4Z" stroke="#fff" stroke-width="1.7" paint-order="stroke" stroke-linejoin="round"/></svg>
<div class="t" style="left:975.40px;top:219.25px;font-size:12.4px;line-height:16.1px;font-weight:400;color:#5c60c0;letter-spacing:1.403px;">38</div>
<svg class="ic" style="left:1026.50px;top:220.60px;width:13px;height:13px;color:#444;" viewBox="0 0 24 24" fill="currentColor"><path d="M19,19H5V8H19M16,1V3H8V1H6V3H5C3.89,3 3,3.89 3,5V19A2,2 0 0,0 5,21H19A2,2 0 0,0 21,19V5C21,3.89 20.1,3 19,3H18V1M17,12H12V17H17V12Z" /></svg>
<div class="t" style="left:1044.30px;top:219.25px;font-size:12.4px;line-height:16.1px;font-weight:400;color:#444;letter-spacing:0.487px;">08/02/2033</div>
<svg class="ic" style="left:1129.05px;top:218.85px;width:16.5px;height:16.5px;color:#555;" viewBox="0 0 24 24" fill="currentColor"><path d="M12,15.5A3.5,3.5 0 0,1 8.5,12A3.5,3.5 0 0,1 12,8.5A3.5,3.5 0 0,1 15.5,12A3.5,3.5 0 0,1 12,15.5M19.43,12.97C19.47,12.65 19.5,12.33 19.5,12C19.5,11.67 19.47,11.34 19.43,11L21.54,9.37C21.73,9.22 21.78,8.95 21.66,8.73L19.66,5.27C19.54,5.05 19.27,4.96 19.05,5.05L16.56,6.05C16.04,5.66 15.5,5.32 14.87,5.07L14.5,2.42C14.46,2.18 14.25,2 14,2H10C9.75,2 9.54,2.18 9.5,2.42L9.13,5.07C8.5,5.32 7.96,5.66 7.44,6.05L4.95,5.05C4.73,4.96 4.46,5.05 4.34,5.27L2.34,8.73C2.21,8.95 2.27,9.22 2.46,9.37L4.57,11C4.53,11.34 4.5,11.67 4.5,12C4.5,12.33 4.53,12.65 4.57,12.97L2.46,14.63C2.27,14.78 2.21,15.05 2.34,15.27L4.34,18.73C4.46,18.95 4.73,19.03 4.95,18.95L7.44,17.94C7.96,18.34 8.5,18.68 9.13,18.93L9.5,21.58C9.54,21.82 9.75,22 10,22H14C14.25,22 14.46,21.82 14.5,21.58L14.87,18.93C15.5,18.67 16.04,18.34 16.56,17.94L19.05,18.95C19.27,19.03 19.54,18.95 19.66,18.73L21.66,15.27C21.78,15.05 21.73,14.78 21.54,14.63L19.43,12.97Z" /></svg>
<div style="position:absolute;left:901.4px;top:245.2px;width:209.10px;height:2.00px;background:#c6cbd0;border-radius:1px;"></div>
<div style="position:absolute;left:901.4px;top:245.1px;width:76.60px;height:2.20px;background:#3a3f4a;border-radius:1px;"></div>
<div style="position:absolute;left:972.80px;top:241.00px;width:10.40px;height:10.40px;border-radius:50%;background:#2f3440;"></div>
<div style="position:absolute;left:886.6px;top:260.2px;width:257.00px;height:119.30px;background:#fff;border-radius:9px;box-shadow:0 2px 10px rgba(60,60,110,.18);"></div>
<div style="position:absolute;left:886.6px;top:260.2px;width:257.00px;height:38.30px;background:#f3f3f7;border-radius:9px 9px 0 0;"></div>
<div class="t" style="left:901.60px;top:270.55px;font-size:11.6px;line-height:15.1px;font-weight:400;color:#5e63be;letter-spacing:-0.061px;-webkit-text-stroke:0.4px;">Net Worth</div>
<div class="t" style="left:1059.30px;top:270.55px;font-size:11.6px;line-height:15.1px;font-weight:400;color:#333;letter-spacing:-0.337px;">$1,040,319</div>
<svg class="ic" style="left:1114.80px;top:268.60px;width:20px;height:20px;color:#555;" viewBox="0 0 24 24" fill="currentColor"><path d="M7.41,15.41L12,10.83L16.59,15.41L18,14L12,8L6,14L7.41,15.41Z" /></svg>
<div class="t" style="left:908.30px;top:313.45px;font-size:11.6px;line-height:15.1px;font-weight:400;color:#5e63be;letter-spacing:-0.039px;-webkit-text-stroke:0.4px;">You</div>
<div class="t" style="left:1061.00px;top:313.45px;font-size:11.6px;line-height:15.1px;font-weight:400;color:#333;letter-spacing:-0.294px;">$660,191</div>
<svg class="ic" style="left:1108.00px;top:311.80px;width:20px;height:20px;color:#555;" viewBox="0 0 24 24" fill="currentColor"><path d="M7.41,8.58L12,13.17L16.59,8.58L18,10L12,16L6,10L7.41,8.58Z" /></svg>
<div class="t" style="left:908.30px;top:346.45px;font-size:11.6px;line-height:15.1px;font-weight:400;color:#5e63be;letter-spacing:-0.266px;-webkit-text-stroke:0.4px;">Spouse</div>
<div class="t" style="left:1061.00px;top:346.45px;font-size:11.6px;line-height:15.1px;font-weight:400;color:#333;letter-spacing:-0.294px;">$380,128</div>
<svg class="ic" style="left:1108.00px;top:344.80px;width:20px;height:20px;color:#555;" viewBox="0 0 24 24" fill="currentColor"><path d="M7.41,8.58L12,13.17L16.59,8.58L18,10L12,16L6,10L7.41,8.58Z" /></svg>
<div class="t" style="left:901.50px;top:394.45px;font-size:11.6px;line-height:15.1px;font-weight:400;color:#5e63be;letter-spacing:-0.203px;-webkit-text-stroke:0.4px;">Change in Net Worth</div>
<div class="t" style="left:1068.20px;top:394.45px;font-size:11.6px;line-height:15.1px;font-weight:400;color:#333;letter-spacing:-0.351px;">$126,223</div>
<svg class="ic" style="left:1115.00px;top:392.30px;width:20px;height:20px;color:#555;" viewBox="0 0 24 24" fill="currentColor"><path d="M7.41,8.58L12,13.17L16.59,8.58L18,10L12,16L6,10L7.41,8.58Z" /></svg>
<div class="t" style="left:901.50px;top:427.45px;font-size:11.6px;line-height:15.1px;font-weight:400;color:#7a7a7a;letter-spacing:-0.103px;">Liquid Net Worth</div>
<div class="t" style="left:1068.20px;top:427.45px;font-size:11.6px;line-height:15.1px;font-weight:400;color:#333;letter-spacing:-0.229px;">$677,114</div>
<svg class="ic" style="left:1115.00px;top:425.30px;width:20px;height:20px;color:#555;" viewBox="0 0 24 24" fill="currentColor"><path d="M7.41,8.58L12,13.17L16.59,8.58L18,10L12,16L6,10L7.41,8.58Z" /></svg>
<div class="t" style="left:901.50px;top:460.45px;font-size:11.6px;line-height:15.1px;font-weight:400;color:#2b9097;letter-spacing:-0.197px;-webkit-text-stroke:0.4px;">Gross Income</div>
<div class="t" style="left:1068.20px;top:460.45px;font-size:11.6px;line-height:15.1px;font-weight:400;color:#333;letter-spacing:-0.351px;">$273,884</div>
<svg class="ic" style="left:1115.00px;top:458.30px;width:20px;height:20px;color:#555;" viewBox="0 0 24 24" fill="currentColor"><path d="M7.41,8.58L12,13.17L16.59,8.58L18,10L12,16L6,10L7.41,8.58Z" /></svg>
<div class="t" style="left:901.50px;top:493.45px;font-size:11.6px;line-height:15.1px;font-weight:400;color:#3aa2ba;letter-spacing:-0.131px;-webkit-text-stroke:0.4px;">Taxable Income</div>
<div class="t" style="left:1068.20px;top:493.45px;font-size:11.6px;line-height:15.1px;font-weight:400;color:#333;letter-spacing:-0.229px;">$239,114</div>
<svg class="ic" style="left:1115.00px;top:491.30px;width:20px;height:20px;color:#555;" viewBox="0 0 24 24" fill="currentColor"><path d="M7.41,8.58L12,13.17L16.59,8.58L18,10L12,16L6,10L7.41,8.58Z" /></svg>
<div class="t" style="left:901.50px;top:527.05px;font-size:11.6px;line-height:15.1px;font-weight:400;color:#8fd0e2;letter-spacing:-0.180px;">Passive Income</div>
<div class="t" style="left:1074.40px;top:527.05px;font-size:11.6px;line-height:15.1px;font-weight:400;color:#333;letter-spacing:-0.370px;">$53,921</div>
<svg class="ic" style="left:1115.00px;top:524.90px;width:20px;height:20px;color:#555;" viewBox="0 0 24 24" fill="currentColor"><path d="M7.41,8.58L12,13.17L16.59,8.58L18,10L12,16L6,10L7.41,8.58Z" /></svg>
<div style="position:absolute;left:886.7px;top:559px;width:257.10px;height:171.00px;background:#fff;border-radius:9px;box-shadow:0 2px 10px rgba(60,60,110,.18);"></div>
<div style="position:absolute;left:886.7px;top:559px;width:257.10px;height:38.60px;background:#f4f4f7;border-radius:9px 9px 0 0;"></div>
<div class="t" style="left:901.50px;top:570.05px;font-size:11.6px;line-height:15.1px;font-weight:400;color:#f08c32;letter-spacing:-0.203px;-webkit-text-stroke:0.4px;">Total Expenses</div>
<div class="t" style="left:1068.20px;top:570.05px;font-size:11.6px;line-height:15.1px;font-weight:400;color:#333;letter-spacing:-0.337px;">$133,643</div>
<svg class="ic" style="left:1115.00px;top:567.60px;width:20px;height:20px;color:#555;" viewBox="0 0 24 24" fill="currentColor"><path d="M7.41,15.41L12,10.83L16.59,15.41L18,14L12,8L6,14L7.41,15.41Z" /></svg>
<div class="t" style="left:901.50px;top:607.65px;font-size:9.8px;line-height:12.7px;font-weight:400;color:#2e2e2e;letter-spacing:-0.203px;">Living Expenses</div>
<div class="t" style="left:1094.60px;top:607.65px;font-size:9.8px;line-height:12.7px;font-weight:400;color:#2e2e2e;letter-spacing:-0.237px;">$66,628</div>
<div class="t" style="left:901.50px;top:636.65px;font-size:9.8px;line-height:12.7px;font-weight:400;color:#2e2e2e;letter-spacing:-0.074px;">House Mortgage (Principal)</div>
<div class="t" style="left:1094.60px;top:636.65px;font-size:9.8px;line-height:12.7px;font-weight:400;color:#2e2e2e;letter-spacing:-0.237px;">$13,456</div>
<div class="t" style="left:901.50px;top:665.65px;font-size:9.8px;line-height:12.7px;font-weight:400;color:#2e2e2e;letter-spacing:-0.256px;">Kid #1</div>
<div class="t" style="left:1094.60px;top:665.65px;font-size:9.8px;line-height:12.7px;font-weight:400;color:#2e2e2e;letter-spacing:-0.237px;">$12,000</div>
<div class="t" style="left:901.50px;top:694.25px;font-size:9.8px;line-height:12.7px;font-weight:400;color:#2e2e2e;letter-spacing:-0.156px;">Kid #2</div>
<div class="t" style="left:1094.60px;top:694.25px;font-size:9.8px;line-height:12.7px;font-weight:400;color:#2e2e2e;letter-spacing:-0.237px;">$12,000</div>
<div style="position:absolute;left:891.3px;top:627.8px;width:247.40px;height:1.00px;background:#e9eaee;"></div>
<div style="position:absolute;left:891.3px;top:656.8px;width:247.40px;height:1.00px;background:#e9eaee;"></div>
<div style="position:absolute;left:891.3px;top:685.8px;width:247.40px;height:1.00px;background:#e9eaee;"></div>
<div style="position:absolute;left:139px;top:16.5px;width:555.50px;height:303.50px;background:#fff;border-radius:15px;box-shadow:0 8px 36px rgba(70,75,105,.16);"></div>
<div style="position:absolute;left:155.90px;top:36.90px;width:49.00px;height:49.00px;border-radius:50%;background:#6668c3;"><svg viewBox="0 0 24 24" fill="currentColor" style="position:absolute;left:11.75px;top:11.75px;width:25.5px;height:25.5px;color:#fff"><path d="M17.45,15.18L22,7.31V19L22,21H2V3H4V15.54L9.5,6L16,9.78L20.24,2.45L21.97,3.45L16.74,12.5L10.23,8.75L4.31,19H6.57L10.96,11.44L17.45,15.18Z" /></svg></div>
<div class="t" style="left:224.80px;top:37.05px;font-size:16.4px;line-height:21.3px;font-weight:700;color:#1d1d1f;letter-spacing:-0.056px;">Current Projections</div>
<svg class="ic" style="left:224.75px;top:64.95px;width:20.5px;height:20.5px;color:#555;" viewBox="0 0 24 24" fill="currentColor"><path d="M19,19H5V8H19M16,1V3H8V1H6V3H5C3.89,3 3,3.89 3,5V19A2,2 0 0,0 5,21H19A2,2 0 0,0 21,19V5C21,3.89 20.1,3 19,3H18V1M17,12H12V17H17V12Z" /></svg>
<div class="t" style="left:249.00px;top:67.55px;font-size:13px;line-height:16.9px;font-weight:400;color:#555;letter-spacing:-0.508px;">Now</div>
<svg class="ic" style="left:652.70px;top:37.00px;width:20px;height:20px;color:#555;" viewBox="0 0 24 24" fill="currentColor"><path d="M12,16A2,2 0 0,1 14,18A2,2 0 0,1 12,20A2,2 0 0,1 10,18A2,2 0 0,1 12,16M12,10A2,2 0 0,1 14,12A2,2 0 0,1 12,14A2,2 0 0,1 10,12A2,2 0 0,1 12,10M12,4A2,2 0 0,1 14,6A2,2 0 0,1 12,8A2,2 0 0,1 10,6A2,2 0 0,1 12,4Z" /></svg>
<svg style="position:absolute;left:0;top:0;width:1170px;height:727px" viewBox="0 0 1170 727">
<linearGradient id="ag" x1="0" y1="165" x2="0" y2="273" gradientUnits="userSpaceOnUse"><stop offset="0" stop-color="#6a6cc4" stop-opacity=".5"/><stop offset="1" stop-color="#6a6cc4" stop-opacity=".06"/></linearGradient>
<g stroke="#eaeaf2" stroke-width="1.2" stroke-dasharray="6 5" fill="none"><line x1="160" x2="670" y1="116" y2="116"/><line x1="160" x2="670" y1="147.2" y2="147.2"/><line x1="160" x2="670" y1="178.8" y2="178.8"/><line x1="160" x2="670" y1="210.2" y2="210.2"/><line x1="160" x2="670" y1="241.6" y2="241.6"/><line x1="160" x2="670" y1="273" y2="273"/></g>
<path d="M160.3,268.2 L172,265.6 L185.2,262.7 L196.2,262 L216,256 L238,248.8 L260,239.4 L282,228 L304,214.7 L326,200.4 L348,185 L359,176.2 L367,172.2 L380,168.3 L400,166.3 L440,165.4 L480,165.6 L520,166.8 L557,169.5 L606,176.3 L669.8,201.8 L669.8,273 L160.3,273 Z" fill="url(#ag)"/>
<path d="M160.3,268.2 L172,265.6 L185.2,262.7 L196.2,262 L216,256 L238,248.8 L260,239.4 L282,228 L304,214.7 L326,200.4 L348,185 L359,176.2 L367,172.2 L380,168.3 L400,166.3 L440,165.4 L480,165.6 L520,166.8 L557,169.5 L606,176.3 L669.8,201.8" fill="none" stroke="#5f63ba" stroke-width="3" stroke-linejoin="round" stroke-linecap="round"/>
<circle cx="669.8" cy="201.8" r="4.6" fill="#5d61b8" stroke="#fff" stroke-width="1.4"/>
</svg>
<div class="t" style="left:163.80px;top:131.90px;font-size:12px;line-height:15.6px;font-weight:400;color:#555;">$4M</div>
<div class="t" style="left:163.80px;top:163.20px;font-size:12px;line-height:15.6px;font-weight:400;color:#555;">$3M</div>
<div class="t" style="left:163.80px;top:194.40px;font-size:12px;line-height:15.6px;font-weight:400;color:#555;">$2M</div>
<div class="t" style="left:163.80px;top:225.80px;font-size:12px;line-height:15.6px;font-weight:400;color:#555;">$1</div>
<div class="t" style="left:253.32px;top:286.00px;font-size:12px;line-height:15.6px;font-weight:400;color:#666;">40</div>
<div class="t" style="left:344.32px;top:286.00px;font-size:12px;line-height:15.6px;font-weight:400;color:#666;">50</div>
<div class="t" style="left:436.32px;top:286.00px;font-size:12px;line-height:15.6px;font-weight:400;color:#666;">60</div>
<div class="t" style="left:527.32px;top:286.00px;font-size:12px;line-height:15.6px;font-weight:400;color:#666;">70</div>
<div style="position:absolute;left:176.90px;top:224.60px;width:18.80px;height:18.80px;border-radius:50%;background:#9c3fb8;"><svg viewBox="0 0 24 24" fill="currentColor" style="position:absolute;left:2.65px;top:2.65px;width:13.5px;height:13.5px;color:#fff"><circle cx="12" cy="5.2" r="3.3"/><path d="M8.6,9.4H15.4Q18.6,9.6 18.6,13.2Q18.6,16 16.4,16.6V21.5H13V18H11V21.5H7.6V16.6Q5.4,16 5.4,13.2Q5.4,9.6 8.6,9.4Z"/></svg></div>
<div style="position:absolute;left:187.80px;top:224.10px;width:19.00px;height:19.00px;border-radius:50%;background:rgba(92,96,183,.93);"><svg viewBox="0 0 24 24" fill="currentColor" style="position:absolute;left:2.50px;top:2.50px;width:14px;height:14px;color:#fff"><path d="M12,3L2,12H5V20H10.2A6.2,6.2 0 0,1 19,11.6V9.3ZM15.5,11.5A4,4 0 0,1 18.9,17.6L22,20.7L20.7,22L17.6,18.9A4,4 0 1,1 15.5,11.5ZM15.5,13.4A2.1,2.1 0 0,0 15.5,17.6A2.1,2.1 0 0,0 15.5,13.4Z" fill-rule="evenodd"/></svg></div>
<div style="position:absolute;left:205.00px;top:218.40px;width:20.00px;height:20.00px;border-radius:50%;background:#9c3fb8;"><svg viewBox="0 0 24 24" fill="currentColor" style="position:absolute;left:2.75px;top:2.75px;width:14.5px;height:14.5px;color:#fff"><circle cx="12" cy="5.2" r="3.3"/><path d="M8.6,9.4H15.4Q18.6,9.6 18.6,13.2Q18.6,16 16.4,16.6V21.5H13V18H11V21.5H7.6V16.6Q5.4,16 5.4,13.2Q5.4,9.6 8.6,9.4Z"/></svg></div>
<div style="position:absolute;left:359.10px;top:133.70px;width:20.60px;height:20.60px;border-radius:50%;background:#e0446a;"><svg viewBox="0 0 24 24" fill="currentColor" style="position:absolute;left:4.30px;top:4.30px;width:12px;height:12px;color:#fff"><path d="M7,5Q12,1 17,5Q18.5,9 14,10.5L13.5,12Q15,12.5 14,14V18A2.5,2.5 0 0,1 9,18V17H10.8V18A0.7,0.7 0 0,0 12.2,18V14Q11,12.8 12,11.5L11.6,10.5Q6,9 7,5Z"/></svg></div>
<div style="position:absolute;left:387.00px;top:127.00px;width:20.00px;height:20.00px;border-radius:50%;background:#a9dde4;"><svg viewBox="0 0 24 24" fill="currentColor" style="position:absolute;left:4.50px;top:4.50px;width:11px;height:11px;color:#fff"><circle cx="12" cy="5.2" r="3.3"/><path d="M8.6,9.4H15.4Q18.6,9.6 18.6,13.2Q18.6,16 16.4,16.6V21.5H13V18H11V21.5H7.6V16.6Q5.4,16 5.4,13.2Q5.4,9.6 8.6,9.4Z"/></svg></div>
<div style="position:absolute;left:341.30px;top:143.30px;width:21.00px;height:21.00px;border-radius:50%;background:#2f92e0;"><svg viewBox="0 0 24 24" fill="currentColor" style="position:absolute;left:4.50px;top:4.50px;width:12px;height:12px;color:#fff"><path d="M6,3A1,1 0 0,1 7,4V4.88C8.06,4.44 9.5,4 11,4C14,4 14,6 16,6C19,6 20,4 20,4V12C20,12 19,14 16,14C13,14 13,12 11,12C8,12 7,14 7,14V21H5V4A1,1 0 0,1 6,3Z" /></svg></div>
<div style="position:absolute;left:660.20px;top:163.20px;width:20.00px;height:20.00px;border-radius:50%;background:#7b828b;"><svg viewBox="0 0 24 24" fill="currentColor" style="position:absolute;left:3.50px;top:3.50px;width:13px;height:13px;color:#fff"><path d="M7.5,4A5.5,5.5 0 0,0 2,9.5C2,10 2.09,10.5 2.22,11H6.3L7.57,7.63C7.87,6.83 9.05,6.75 9.43,7.63L11.5,13L12.09,11.58C12.22,11.25 12.57,11 13,11H21.78C21.91,10.5 22,10 22,9.5A5.5,5.5 0 0,0 16.5,4C14.64,4 13,4.93 12,6.34C11,4.93 9.36,4 7.5,4V4M3,12.5A1,1 0 0,0 2,13.5A1,1 0 0,0 3,14.5H5.44L11,20C12,20.9 12,20.9 13,20L18.56,14.5H21A1,1 0 0,0 22,13.5A1,1 0 0,0 21,12.5H13.4L12.47,14.8C12.07,15.81 10.92,15.67 10.55,14.83L8.5,9.5L7.54,11.83C7.39,12.21 7.05,12.5 6.6,12.5H3Z" /></svg></div>
<div style="position:absolute;left:351.3px;top:116px;width:1.80px;height:157.00px;background:#a0a0a5;"></div>
<div style="position:absolute;left:367px;top:64.5px;width:188.50px;height:47.50px;background:#fff;border-radius:21px;box-shadow:0 3px 14px rgba(50,50,110,.22);"></div>
<div style="position:absolute;left:379.70px;top:76.40px;width:24.00px;height:24.00px;border-radius:50%;background:#3f9fe9;"><svg viewBox="0 0 24 24" fill="currentColor" style="position:absolute;left:5.00px;top:5.00px;width:14px;height:14px;color:#fff"><path d="M6,3A1,1 0 0,1 7,4V4.88C8.06,4.44 9.5,4 11,4C14,4 14,6 16,6C19,6 20,4 20,4V12C20,12 19,14 16,14C13,14 13,12 11,12C8,12 7,14 7,14V21H5V4A1,1 0 0,1 6,3Z" /></svg></div>
<div class="t" style="left:412.30px;top:80.95px;font-size:11.6px;line-height:15.1px;font-weight:400;color:#555;letter-spacing:-0.225px;">Financial Independence</div>
<div style="position:absolute;left:367px;top:129.3px;width:188.50px;height:119.90px;background:rgba(255,255,255,.87);border-radius:14px;box-shadow:0 3px 14px rgba(50,50,110,.22);"></div>
<svg class="ic" style="left:379.20px;top:140.20px;width:22px;height:22px;color:#777;" viewBox="0 0 24 24" fill="currentColor"><circle cx="11.4" cy="13" r="8.6" fill="none" stroke="currentColor" stroke-width="2" stroke-dasharray="42.6 8.2 3.24 0"/><path d="M2.8,10.9A8.8,8.8 0 0,1 15.3,5.2Q13.2,8.2 9.4,9.5Q6,10.5 2.8,10.9Z"/><circle cx="8.3" cy="13.6" r="1.25"/><circle cx="14.5" cy="13.6" r="1.25"/><path d="M19.8,0.2L20.7,2.9L23.4,3.8L20.7,4.7L19.8,7.4L18.9,4.7L16.2,3.8L18.9,2.9Z"/></svg>
<div class="t" style="left:407.80px;top:144.55px;font-size:12.2px;line-height:15.9px;font-weight:700;color:#6b6b6b;letter-spacing:-0.394px;">Age 50</div>
<svg class="ic" style="left:379.20px;top:165.80px;width:22px;height:22px;color:#5c60c0;" viewBox="0 0 24 24" fill="currentColor"><path d="M1.6,22.6V12.6A9.8,9.8 0 0,1 21.4,12.6V22.6ZM4.8,14.2A6.7,6.7 0 0,0 18.2,14.2V12Q14.4,11.2 12.4,8.4Q9.6,12.6 4.8,13.2Z" fill-rule="evenodd"/><circle cx="8.8" cy="14.3" r="1.2"/><circle cx="14.2" cy="14.3" r="1.2"/><path d="M19.8,0.4L20.8,3.4L23.8,4.4L20.8,5.4L19.8,8.4L18.8,5.4L15.8,4.4L18.8,3.4Z" stroke="#fff" stroke-width="1.7" paint-order="stroke" stroke-linejoin="round"/></svg>
<div class="t" style="left:407.80px;top:170.75px;font-size:12.2px;line-height:15.9px;font-weight:700;color:#5a5fc0;letter-spacing:-0.394px;">Age 48</div>
<svg class="ic" style="left:379.95px;top:194.05px;width:19.5px;height:19.5px;color:#555;" viewBox="0 0 24 24" fill="currentColor"><path d="M19,19H5V8H19M16,1V3H8V1H6V3H5C3.89,3 3,3.89 3,5V19A2,2 0 0,0 5,21H19A2,2 0 0,0 21,19V5C21,3.89 20.1,3 19,3H18V1M17,12H12V17H17V12Z" /></svg>
<div class="t" style="left:408.00px;top:196.20px;font-size:12.6px;line-height:16.4px;font-weight:700;color:#333;letter-spacing:-0.370px;">Aug 2, 2043</div>
<div style="position:absolute;left:382.2px;top:223px;width:15.00px;height:15.00px;background:#7a7fc4;border-radius:3.5px;"></div>
<div class="t" style="left:408.00px;top:223.10px;font-size:11.2px;line-height:14.6px;font-weight:400;color:#666;letter-spacing:-0.034px;">Net Worth: <span style="color:#7c82d2">$2,867,384</span></div>
<div style="position:absolute;left:0px;top:714px;width:1170.00px;height:13.00px;background:#efeeee;"></div>
</body></html>
